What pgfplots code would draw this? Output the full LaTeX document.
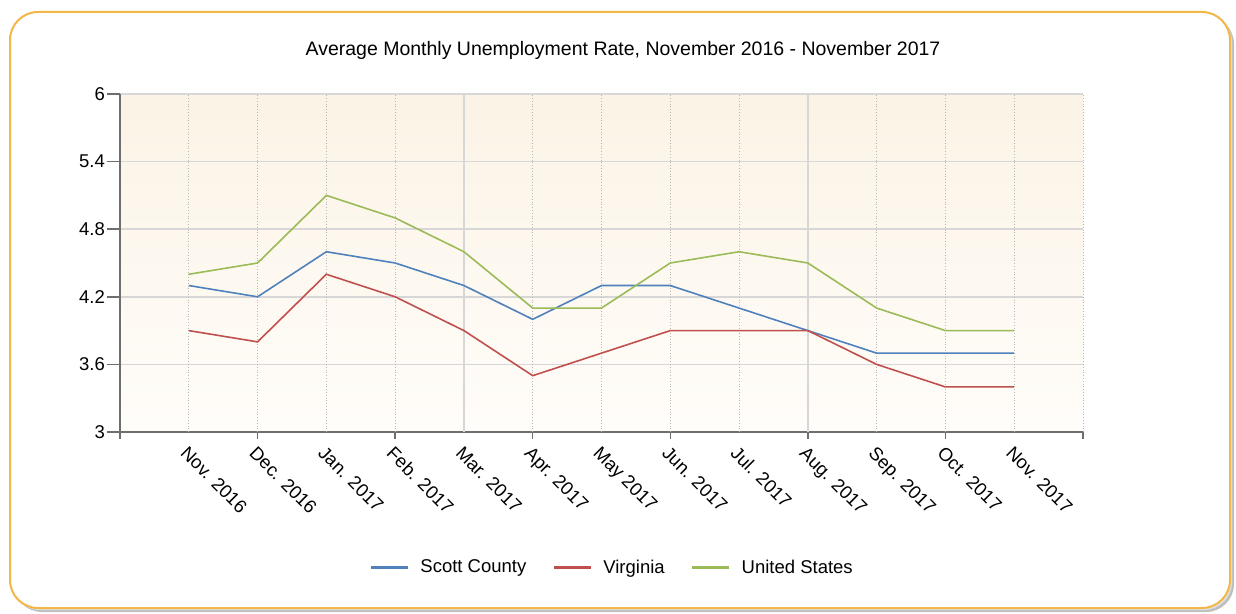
\documentclass[border=0pt]{standalone}
\usepackage{fontspec}
\setmainfont{Liberation Sans}
\usepackage{pgfplots}
\pgfplotsset{compat=1.18}
\definecolor{cScott}{HTML}{4F81BD}
\definecolor{cVA}{HTML}{C0504D}
\definecolor{cUS}{HTML}{9BBB59}
\definecolor{bgtop}{RGB}{251,243,229}
\definecolor{bgbot}{RGB}{255,253,250}
\definecolor{frame}{RGB}{242,183,70}
\definecolor{gridc}{RGB}{215,215,215}
\definecolor{axc}{RGB}{110,110,110}
\begin{document}
\begin{tikzpicture}[x=1pt,y=1pt]
\path[use as bounding box] (0,0) rectangle (1236,613);
\fill[black!25, rounded corners=28pt] (14,1) rectangle (1234,597);
\fill[black!12, rounded corners=28pt] (12,3) rectangle (1232,599);
\filldraw[fill=white, draw=frame, line width=2pt, rounded corners=28pt] (10,5) rectangle (1230,601);
\node[font=\fontsize{19.5}{23}\selectfont] at (623,563) {Average Monthly Unemployment Rate, November 2016 - November 2017};
\begin{axis}[
  at={(120pt,181pt)}, anchor=south west,
  width=963pt, height=338pt, scale only axis,
  xmin=-1, xmax=13, ymin=3, ymax=6,
  axis x line*=bottom, axis y line*=left,
  axis line style={axc, line width=1.5pt},
  tick align=outside,
  xtick={0,...,12},
  xticklabels={Nov. 2016,Dec. 2016,Jan. 2017,Feb. 2017,Mar. 2017,Apr. 2017,May 2017,Jun. 2017,Jul. 2017,Aug. 2017,Sep. 2017,Oct. 2017,Nov. 2017},
  xtick style={draw=none},
  xticklabel style={rotate=-45, anchor=north west, inner sep=0pt, font=\fontsize{18.5}{22}\selectfont},
  ytick={3,3.6,4.2,4.8,5.4,6},
  yticklabel style={font=\fontsize{18.5}{22}\selectfont, inner sep=2pt},
  ytick style={axc, line width=1.5pt},
  major tick length=13pt,
  /pgf/number format/assume math mode=true,
  ymajorgrids,
  major grid style={solid, gridc, line width=1.5pt},
  axis background/.style={top color=bgtop, bottom color=bgbot},
  clip=false,
  legend columns=3,
  legend style={at={(0.511,-0.400)}, anchor=center, draw=none, fill=none,
    font=\fontsize{18.5}{22}\selectfont,
    /tikz/every even column/.append style={column sep=24pt},
    /tikz/every odd column/.append style={column sep=9pt}},
  legend image code/.code={\draw[#1, line width=3pt] (0pt,0pt) -- (37pt,0pt);},
]
\pgfplotsinvokeforeach{0,...,13}{\draw[gridc!85!black, line width=0.8pt, dotted] (axis cs:#1,3) -- (axis cs:#1,6);}
\pgfplotsinvokeforeach{4,9}{\draw[gridc, line width=1.5pt] (axis cs:#1,3) -- (axis cs:#1,6);}
\pgfplotsinvokeforeach{-1,1,3,5,7,9,11,13}{\draw[axc, line width=1.5pt] (axis cs:#1,3) -- ++(0pt,-7pt);}
\addplot[cScott, line width=1.6pt] coordinates {(0,4.3)(1,4.2)(2,4.6)(3,4.5)(4,4.3)(5,4.0)(6,4.3)(7,4.3)(8,4.1)(9,3.9)(10,3.7)(11,3.7)(12,3.7)};
\addlegendentry{Scott County}
\addplot[cVA, line width=1.6pt] coordinates {(0,3.9)(1,3.8)(2,4.4)(3,4.2)(4,3.9)(5,3.5)(6,3.7)(7,3.9)(8,3.9)(9,3.9)(10,3.6)(11,3.4)(12,3.4)};
\addlegendentry{Virginia}
\addplot[cUS, line width=1.6pt] coordinates {(0,4.4)(1,4.5)(2,5.1)(3,4.9)(4,4.6)(5,4.1)(6,4.1)(7,4.5)(8,4.6)(9,4.5)(10,4.1)(11,3.9)(12,3.9)};
\addlegendentry{United States}
\end{axis}
\end{tikzpicture}
\end{document}
